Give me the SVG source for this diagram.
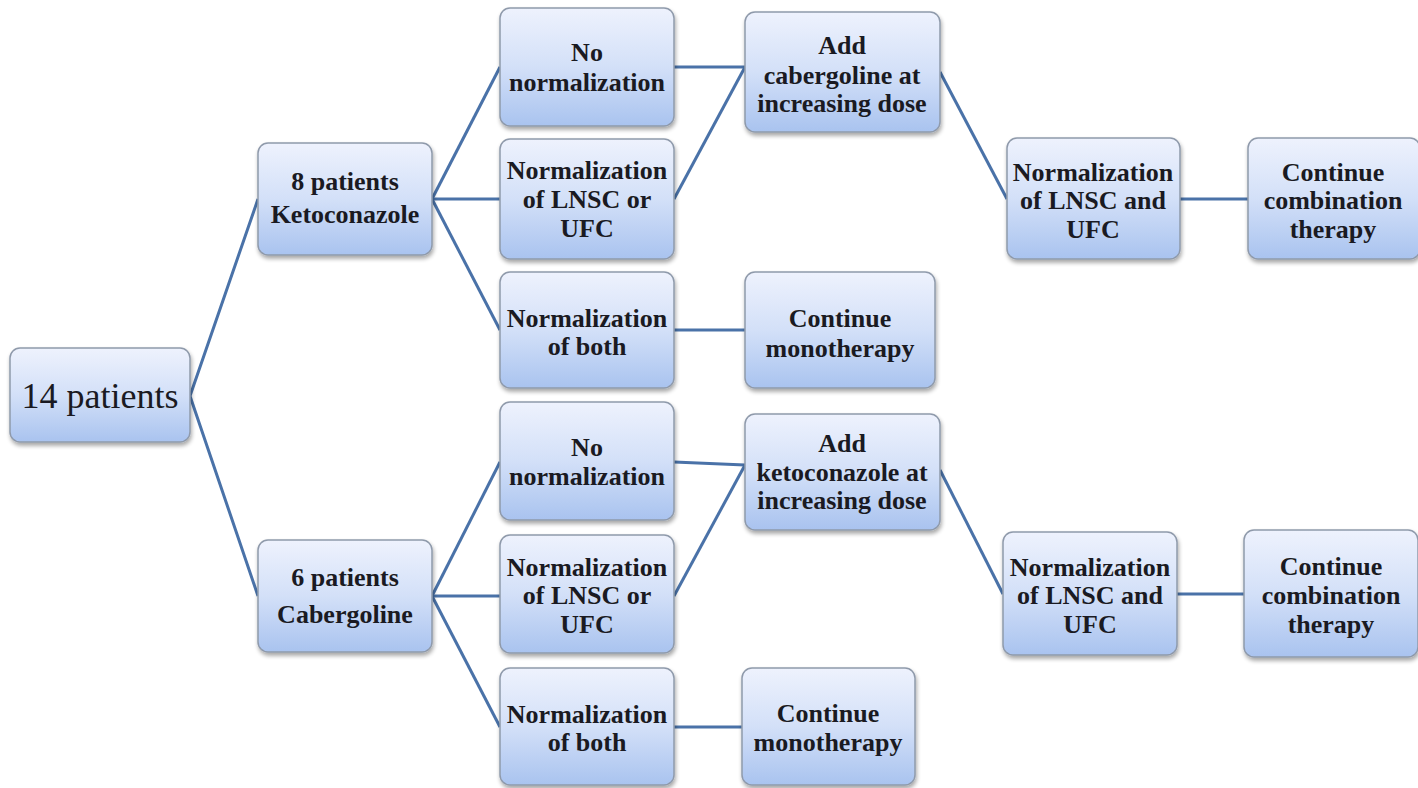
<svg xmlns="http://www.w3.org/2000/svg" width="1418" height="788" viewBox="0 0 1418 788">
<defs>
<linearGradient id="g" x1="0" y1="0" x2="0" y2="1">
<stop offset="0" stop-color="#eef2fd"/>
<stop offset="0.5" stop-color="#d3e0f8"/>
<stop offset="1" stop-color="#a9c3ef"/>
</linearGradient>
<filter id="sh" x="-10%" y="-10%" width="125%" height="130%">
<feGaussianBlur in="SourceAlpha" stdDeviation="2"/>
<feOffset dx="1" dy="3"/>
<feComponentTransfer><feFuncA type="linear" slope="0.35"/></feComponentTransfer>
<feMerge><feMergeNode/><feMergeNode in="SourceGraphic"/></feMerge>
</filter>
</defs>
<style>
.box{fill:url(#g);stroke:#8f9aab;stroke-width:1.5;filter:url(#sh)}
.t{font-family:'Liberation Serif',serif;font-size:26px;font-weight:bold;fill:#1a1a22;text-anchor:middle}
.big{font-size:36px;font-weight:normal}
.c{stroke:#4a72a8;stroke-width:3;fill:none}
</style>
<rect width="1418" height="788" fill="#ffffff"/>
<g id="connectors">
<polyline class="c" points="258,199 190,396 258,596"/>
<line class="c" x1="432" y1="199" x2="500" y2="67"/>
<line class="c" x1="432" y1="199" x2="500" y2="199"/>
<line class="c" x1="432" y1="199" x2="500" y2="330"/>
<line class="c" x1="674" y1="67" x2="745" y2="67"/>
<line class="c" x1="674" y1="199" x2="745" y2="67"/>
<line class="c" x1="940" y1="72" x2="1007" y2="199"/>
<line class="c" x1="1180" y1="199" x2="1248" y2="199"/>
<line class="c" x1="674" y1="330" x2="745" y2="330"/>
<line class="c" x1="432" y1="596" x2="500" y2="462"/>
<line class="c" x1="432" y1="596" x2="500" y2="596"/>
<line class="c" x1="432" y1="596" x2="500" y2="727"/>
<line class="c" x1="674" y1="462" x2="745" y2="465"/>
<line class="c" x1="674" y1="596" x2="745" y2="465"/>
<line class="c" x1="940" y1="470" x2="1003" y2="594"/>
<line class="c" x1="1177" y1="594" x2="1244" y2="594"/>
<line class="c" x1="674" y1="727" x2="742" y2="727"/>
</g>
<g id="n14"><rect class="box" x="10" y="348" width="180" height="94" rx="10"/><text class="t big" x="100" y="408" font-family="Liberation Serif">14 patients</text></g>
<g id="keto"><rect class="box" x="258" y="143" width="174" height="112" rx="10"/><text class="t" x="345" y="190">8  patients</text><text class="t" x="345" y="223">Ketoconazole</text></g>
<g id="k_nonorm"><rect class="box" x="500" y="8" width="174" height="118" rx="10"/><text class="t" x="587" y="61">No</text><text class="t" x="587" y="91">normalization</text></g>
<g id="k_either"><rect class="box" x="500" y="139" width="174" height="120" rx="10"/><text class="t" x="587" y="179">Normalization</text><text class="t" x="587" y="208">of LNSC or</text><text class="t" x="587" y="237">UFC</text></g>
<g id="k_both"><rect class="box" x="500" y="272" width="174" height="116" rx="10"/><text class="t" x="587" y="327">Normalization</text><text class="t" x="587" y="355">of both</text></g>
<g id="k_addcab"><rect class="box" x="745" y="12" width="195" height="120" rx="10"/><text class="t" x="842" y="54">Add</text><text class="t" x="842" y="84">cabergoline at</text><text class="t" x="842" y="112">increasing dose</text></g>
<g id="k_mono"><rect class="box" x="745" y="272" width="190" height="116" rx="10"/><text class="t" x="840" y="327">Continue</text><text class="t" x="840" y="357">monotherapy</text></g>
<g id="k_normboth"><rect class="box" x="1007" y="138" width="173" height="121" rx="10"/><text class="t" x="1093" y="181">Normalization</text><text class="t" x="1093" y="209">of LNSC and</text><text class="t" x="1093" y="238">UFC</text></g>
<g id="k_combo"><rect class="box" x="1248" y="138" width="172" height="121" rx="10"/><text class="t" x="1333" y="181">Continue</text><text class="t" x="1333" y="209">combination</text><text class="t" x="1333" y="238">therapy</text></g>
<g id="cab"><rect class="box" x="258" y="540" width="174" height="112" rx="10"/><text class="t" x="345" y="586">6  patients</text><text class="t" x="345" y="623">Cabergoline</text></g>
<g id="c_nonorm"><rect class="box" x="500" y="402" width="174" height="118" rx="10"/><text class="t" x="587" y="456">No</text><text class="t" x="587" y="485">normalization</text></g>
<g id="c_either"><rect class="box" x="500" y="535" width="174" height="118" rx="10"/><text class="t" x="587" y="576">Normalization</text><text class="t" x="587" y="604">of LNSC or</text><text class="t" x="587" y="633">UFC</text></g>
<g id="c_both"><rect class="box" x="500" y="668" width="174" height="117" rx="10"/><text class="t" x="587" y="723">Normalization</text><text class="t" x="587" y="751">of  both</text></g>
<g id="c_addketo"><rect class="box" x="745" y="414" width="195" height="116" rx="10"/><text class="t" x="842" y="452">Add</text><text class="t" x="842" y="481">ketoconazole at</text><text class="t" x="842" y="509">increasing dose</text></g>
<g id="c_mono"><rect class="box" x="742" y="668" width="173" height="117" rx="10"/><text class="t" x="828" y="722">Continue</text><text class="t" x="828" y="751">monotherapy</text></g>
<g id="c_normboth"><rect class="box" x="1003" y="532" width="174" height="123" rx="10"/><text class="t" x="1090" y="576">Normalization</text><text class="t" x="1090" y="604">of LNSC and</text><text class="t" x="1090" y="633">UFC</text></g>
<g id="c_combo"><rect class="box" x="1244" y="530" width="174" height="127" rx="10"/><text class="t" x="1331" y="575">Continue</text><text class="t" x="1331" y="604">combination</text><text class="t" x="1331" y="633">therapy</text></g>
</svg>
